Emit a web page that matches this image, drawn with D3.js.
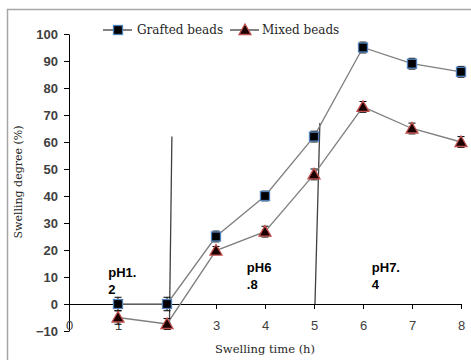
<!DOCTYPE html>
<html>
<head>
<meta charset="utf-8">
<script src="https://d3js.org/d3.v7.min.js"></script>
<style>
  body { margin: 0; background: #fff; }
  .tick text { font-family: "Liberation Sans", sans-serif; font-weight: bold; font-size: 13px; fill: #404040; }
</style>
</head>
<body>
<svg width="471" height="360"></svg>
<script>
// swelling time (h)
var hours = [1, 2, 3, 4, 5, 6, 7, 8];
var grafted = [0, 0, 25, 40, 62, 95, 89, 86];
var graftedErr = [2.5, 2.5, 2, 1.8, 2, 2, 2, 2];
var mixed = [-5, -7.4, 19.8, 26.8, 48, 73, 65, 60];
var mixedErr = [2.5, 2, 1.5, 2, 2, 2, 2, 2];
var yTicks = [-10, 0, 10, 20, 30, 40, 50, 60, 70, 80, 90, 100];
var xTicks = [0, 1, 2, 3, 4, 5, 6, 7, 8];
// pH regions: [x, y, line1, line2]
var phLabels = [[0.8, 10, "pH1.", "2"], [3.63, 12, "pH6", ".8"], [6.18, 12, "pH7.", "4"]];
// the two stray vertical lines: [x top, y top, x bottom, y bottom]
var dividers = [[2.1, 62, 2.05, -7], [5.12, 67, 5.02, 0]];

var svg = d3.select("svg");

// outer frame
svg.append("rect")
  .attr("x", 7.5).attr("y", 9.5)
  .attr("width", 480).attr("height", 380)
  .attr("fill", "none").attr("stroke", "#a6a6a6").attr("stroke-width", 1.5);

var x = d3.scaleLinear().domain([0, 8]).range([69, 461]);
var y = d3.scaleLinear().domain([-10, 100]).range([331, 34]);

// y axis
var yAxis = svg.append("g")
  .attr("transform", "translate(" + x(0) + ",0)")
  .call(d3.axisLeft(y).tickValues(yTicks).tickSize(5).tickPadding(6).tickSizeOuter(0));
yAxis.select(".domain").attr("stroke", "#000");
yAxis.selectAll(".tick line").attr("stroke", "#000");
yAxis.selectAll(".tick text").attr("dy", "0.35em");

// x axis drawn at y = 0
var xAxis = svg.append("g")
  .attr("transform", "translate(0," + y(0) + ")")
  .call(d3.axisBottom(x).tickValues(xTicks).tickSize(5).tickPadding(12).tickSizeOuter(0));
xAxis.select(".domain").attr("stroke", "#000");
xAxis.selectAll(".tick line").attr("stroke", "#000");
xAxis.selectAll(".tick text").style("font-weight", "normal").attr("fill", "#404040");

// axis titles
svg.append("text")
  .attr("x", 265).attr("y", 353)
  .attr("text-anchor", "middle")
  .attr("font-family", "DejaVu Serif, serif").attr("font-size", 11.5)
  .attr("fill", "#262626")
  .text("Swelling time (h)");
svg.append("text")
  .attr("transform", "translate(22,182) rotate(-90)")
  .attr("text-anchor", "middle")
  .attr("font-family", "DejaVu Serif, serif").attr("font-size", 11)
  .attr("fill", "#262626")
  .text("Swelling degree (%)");

// pH labels
phLabels.forEach(function(p) {
  var t = svg.append("text")
    .attr("font-family", "Liberation Sans, sans-serif").attr("font-weight", "bold")
    .attr("font-size", 13).attr("fill", "#000");
  t.append("tspan").attr("x", x(p[0])).attr("y", y(p[1])).text(p[2]);
  t.append("tspan").attr("x", x(p[0])).attr("dy", 17).text(p[3]);
});

// vertical lines
dividers.forEach(function(d) {
  svg.append("line")
    .attr("x1", x(d[0])).attr("y1", y(d[1]))
    .attr("x2", x(d[2])).attr("y2", y(d[3]))
    .attr("stroke", "#404040").attr("stroke-width", 1.3);
});

var series = [
  {name: "Grafted beads", vals: grafted, err: graftedErr, shape: "square"},
  {name: "Mixed beads", vals: mixed, err: mixedErr, shape: "triangle"}
];

function marker(g, shape, cx, cy) {
  if (shape === "square") {
    g.append("rect")
      .attr("x", cx - 4.5).attr("y", cy - 4.5).attr("width", 9).attr("height", 9)
      .attr("fill", "#000").attr("stroke", "#4f81bd").attr("stroke-width", 1.3);
  } else {
    g.append("path")
      .attr("d", "M" + cx + "," + (cy - 6) + "L" + (cx + 6) + "," + (cy + 4.5) + "L" + (cx - 6) + "," + (cy + 4.5) + "Z")
      .attr("fill", "#1a0000").attr("stroke", "#c0504d").attr("stroke-width", 1.3);
  }
}

var line = d3.line().x(function(d) { return x(d[0]); }).y(function(d) { return y(d[1]); });

series.forEach(function(s) {
  var pts = hours.map(function(h, i) { return [h, s.vals[i], s.err[i]]; });
  var g = svg.append("g");
  g.append("path").datum(pts).attr("d", line)
    .attr("fill", "none").attr("stroke", "#7f7f7f").attr("stroke-width", 1.3);
  pts.forEach(function(p) {
    var cx = x(p[0]);
    g.append("line").attr("x1", cx).attr("x2", cx)
      .attr("y1", y(p[1] - p[2])).attr("y2", y(p[1] + p[2])).attr("stroke", "#000");
    [p[1] - p[2], p[1] + p[2]].forEach(function(v) {
      g.append("line").attr("x1", cx - 3.5).attr("x2", cx + 3.5)
        .attr("y1", y(v)).attr("y2", y(v)).attr("stroke", "#000");
    });
    marker(g, s.shape, cx, y(p[1]));
  });
});

// legend
var legend = [[103, 137, "Grafted beads", "square"], [230, 262, "Mixed beads", "triangle"]];
legend.forEach(function(l, i) {
  var g = svg.append("g");
  g.append("line").attr("x1", l[0]).attr("x2", l[0] + 29).attr("y1", 30).attr("y2", 30)
    .attr("stroke", "#404040").attr("stroke-width", 1.3);
  marker(g, series[i].shape, l[0] + 15, 30);
  g.append("text").attr("x", l[1]).attr("y", 34)
    .attr("font-family", "DejaVu Serif, serif").attr("font-size", 12)
    .attr("fill", "#262626").text(l[2]);
});
</script>
</body>
</html>
